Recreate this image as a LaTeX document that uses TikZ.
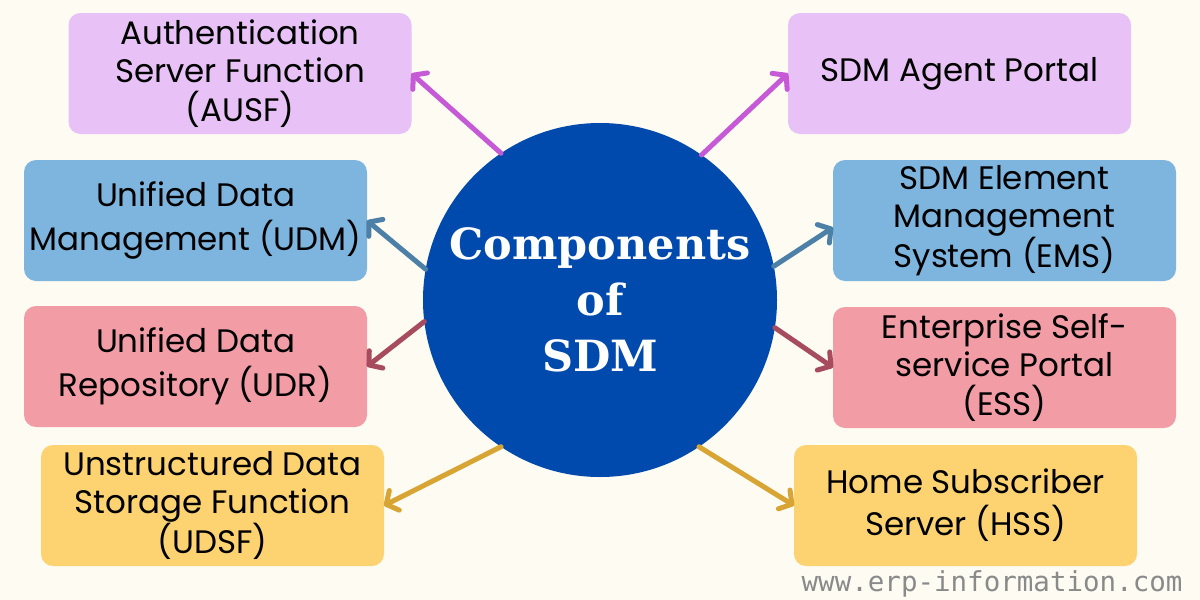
\documentclass[tikz,border=0pt]{standalone}
\usepackage{fontspec}
\setmainfont{Poppins}
\newfontfamily\titlefont{DejaVu Serif}
\newfontfamily\webfont{DejaVu Sans Mono}
\usepackage{xcolor}
\usepackage{tikz}
\usetikzlibrary{arrows.meta,positioning}
\definecolor{sdmpaper}{HTML}{FDFBF2}
\definecolor{sdmcore}{HTML}{004AAD}
\definecolor{sdmlilac}{HTML}{E8C2F6}
\definecolor{sdmsky}{HTML}{7DB5DE}
\definecolor{sdmrose}{HTML}{F29CA6}
\definecolor{sdmsand}{HTML}{FDD372}
\definecolor{sdmpurple}{HTML}{C65AD6}
\definecolor{sdmsteel}{HTML}{4C80A6}
\definecolor{sdmwine}{HTML}{A64C5E}
\definecolor{sdmgold}{HTML}{D8A535}
\definecolor{sdmgrey}{HTML}{8A8A8A}

\begin{document}
\begin{tikzpicture}[x=1pt, y=-1pt,
  box/.style={rounded corners=12pt, minimum width=343pt, minimum height=121pt, inner sep=0pt, outer sep=0pt, align=center, font=\fontsize{32.5}{38.5}\selectfont},
  arrow/.style={-{Straight Barb[length=9pt, width=22pt, round]}, line width=5pt, line cap=round}
]
\fill[sdmpaper] (0,0) rectangle (1200,600);
\useasboundingbox (0,0) rectangle (1200,600);

\node[circle, fill=sdmcore, minimum size=354pt, inner sep=0pt, outer sep=0pt, text=white, align=center,
  font=\titlefont\bfseries\fontsize{43}{56}\selectfont] (core) at (600,300) {Components\\of\\SDM};

% left column
\node[box, fill=sdmlilac] (ausf) at (240,73.5) {Authentication\\Server Function\\(AUSF)};
\node[box, fill=sdmsky, below=26pt of ausf, xshift=-44.5pt, font=\fontsize{32.5}{44}\selectfont] (udm) {Unified Data\\Management (UDM)};
\node[box, fill=sdmrose, below=25pt of udm, font=\fontsize{32.5}{44}\selectfont] (udr) {Unified Data\\Repository (UDR)};
\node[box, fill=sdmsand, below=18pt of udr, xshift=17pt] (udsf) {Unstructured Data\\Storage Function\\(UDSF)};

% right column
\node[box, fill=sdmlilac] (agent) at (959.5,73.5) {SDM Agent Portal};
\node[box, fill=sdmsky, below=26pt of agent, xshift=45pt] (ems) {SDM Element\\Management\\System (EMS)};
\node[box, fill=sdmrose, below=26pt of ems] (ess) {Enterprise Self-\\service Portal\\(ESS)};
\node[box, fill=sdmsand, below=17pt of ess, xshift=-39pt, font=\fontsize{32.5}{42}\selectfont] (hss) {Home Subscriber\\Server (HSS)};

\node[text=sdmgrey, font=\webfont\fontsize{27.5}{30}\selectfont, anchor=east] (web) at (1186,584) {www.erp-information.com};

\draw[arrow, draw=sdmpurple] (core.124) -- (ausf.east);
\draw[arrow, draw=sdmsteel] (core.170) -- (udm.east);
\draw[arrow, draw=sdmwine] (core.187) -- (udr.east);
\draw[arrow, draw=sdmgold] (core.236) -- (udsf.east);
\draw[arrow, draw=sdmpurple] (core.55) -- (agent.west);
\draw[arrow, draw=sdmsteel] (core.11) -- ([yshift=-7pt]ems.west);
\draw[arrow, draw=sdmwine] (core.351) -- (ess.west);
\draw[arrow, draw=sdmgold] (core.304) -- (hss.west);
\end{tikzpicture}
\end{document}
